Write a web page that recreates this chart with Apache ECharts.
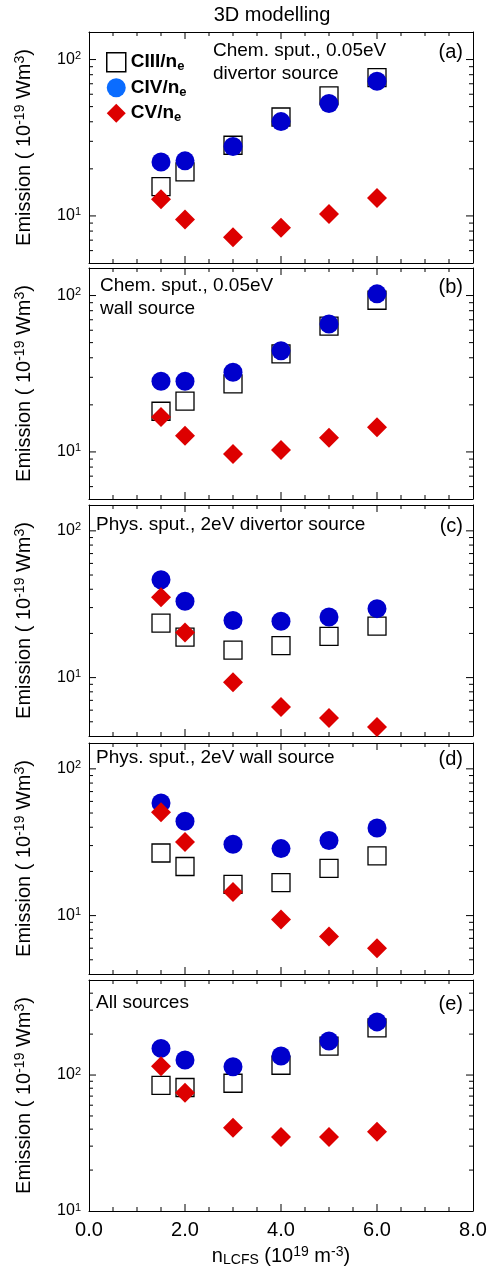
<!DOCTYPE html>
<html><head><meta charset="utf-8">
<script src="https://cdn.jsdelivr.net/npm/echarts@6/dist/echarts.min.js"></script>
<style>html,body{margin:0;padding:0;background:#fff}#c{width:493px;height:1277px;background:#fff}</style>
</head><body><div id="c"></div>
<script>
// ---- data ----
const xValues = [1.5, 2, 3, 4, 5, 6];
const seriesNames = ['CIII', 'CIV', 'CV'];
const ciiiA = [15.4, 19.1, 28.3, 42.9, 58.5, 76.7];
const civA  = [22.1, 22.5, 27.8, 40.1, 52.3, 72.6];
const cvA   = [12.8, 9.5, 7.3, 8.4, 10.3, 13.0];
const ciiiB = [18.2, 21.1, 27.2, 42.4, 63.8, 93.3];
const civB  = [28.3, 28.3, 32.3, 44.3, 65.8, 102.5];
const cvB   = [16.7, 12.7, 9.7, 10.3, 12.3, 14.4];
const ciiiC = [23.5, 18.9, 15.4, 16.5, 19.1, 22.4];
const civC  = [46.4, 33.1, 24.5, 24.2, 25.9, 29.5];
const cvC   = [35.3, 20.3, 9.3, 6.3, 5.3, 4.6];
const ciiiD = [26.7, 21.6, 16.3, 16.8, 21.0, 25.5];
const civD  = [58.5, 44.0, 30.6, 28.6, 32.5, 39.5];
const cvD   = [50.6, 31.7, 14.5, 9.4, 7.2, 6.0];
const ciiiE = [84, 81, 87, 118, 163, 222];
const civE  = [157, 129, 115, 138, 178, 246];
const cvE   = [116, 74, 41, 35, 35, 38.3];
const yMins = [5, 5, 4, 4, 10];
const yMaxs = [150, 150, 150, 150, 500];
const decadeTicks = [10, 100, 1000];
const minorMultipliers = [2, 3, 4, 5, 6, 7, 8, 9];
const xMajorTicks = [2, 4, 6];
const xMinorTicks = [0.5, 1, 1.5, 2.5, 3, 3.5, 4.5, 5, 5.5, 6.5, 7, 7.5];
const xTickLabels = ['0.0', '2.0', '4.0', '6.0', '8.0'];
const panelTexts = [
  ['Chem. sput., 0.05eV', 'divertor source'],
  ['Chem. sput., 0.05eV', 'wall source'],
  ['Phys. sput., 2eV divertor source'],
  ['Phys. sput., 2eV wall source'],
  ['All sources']
];
const panelLetters = ['(a)', '(b)', '(c)', '(d)', '(e)'];
const panelData = [
  [ciiiA, civA, cvA], [ciiiB, civB, cvB], [ciiiC, civC, cvC], [ciiiD, civD, cvD], [ciiiE, civE, cvE]
];

// ---- layout ----
const FONT = '"Liberation Sans", Arial, sans-serif';
const gridTops = [32, 268, 505, 743, 980];
const gridH = 231;
const grids = gridTops.map(t => ({ left: 89, width: 384, top: t, height: gridH, show: false }));

function minorTicksFor(min, max) {
  const out = [];
  [1, 10, 100].forEach(d => minorMultipliers.forEach(m => {
    const v = m * d; if (v > min && v < max) out.push(v);
  }));
  return out;
}
function majorTicksFor(min, max) { return decadeTicks.filter(v => v > min && v < max); }

const lineStyle = { color: '#000', width: 1 };
function xb(i, pos, withLabels) {
  return { type: 'value', gridIndex: i, min: 0, max: 8, interval: 2, position: pos,
    axisLine: { show: true, onZero: false, lineStyle: lineStyle },
    axisTick: { show: false }, minorTick: { show: false },
    splitLine: { show: false }, minorSplitLine: { show: false },
    axisLabel: withLabels ? { show: true, margin: 9, fontSize: 20, fontFamily: FONT, color: '#000',
      formatter: v => xTickLabels[Math.round(v / 2)] } : { show: false } };
}
function yb(i, pos, withLabels) {
  const mn = yMins[i], mx = yMaxs[i];
  return { type: 'log', logBase: 10, gridIndex: i, min: mn, max: mx, position: pos,
    splitLine: { show: false }, minorTick: { show: false }, minorSplitLine: { show: false },
    axisLine: { show: true, onZero: false, lineStyle: lineStyle },
    axisTick: { show: false },
    axisLabel: withLabels ? {
      show: true, margin: 8, customValues: decadeTicks.filter(v => v >= mn && v <= mx),
      formatter: v => '{n|10}{s|' + Math.round(Math.log10(v)) + '}',
      rich: {
        n: { fontSize: 16, fontFamily: FONT, color: '#000', lineHeight: 18 },
        s: { fontSize: 11, fontFamily: FONT, color: '#000', verticalAlign: 'top', lineHeight: 10 }
      }
    } : { show: false } };
}

const xAxes = [], yAxes = [], series = [], graphics = [];
const styles = [
  { symbol: 'rect', symbolSize: 18, itemStyle: { color: 'rgba(255,255,255,0)', borderColor: '#000', borderWidth: 1.3, opacity: 1 } },
  { symbol: 'circle', symbolSize: 19, itemStyle: { color: '#0000cc', opacity: 1 } },
  { symbol: 'diamond', symbolSize: 20, itemStyle: { color: '#dd0000', opacity: 1 } }
];
const yTitleRich = {
  n: { fontSize: 20, fontFamily: FONT, fill: '#000', lineHeight: 22 },
  s: { fontSize: 14, fontFamily: FONT, fill: '#000', verticalAlign: 'top', lineHeight: 12 }
};

panelData.forEach((pd, i) => {
  const xi = xAxes.length, yi = yAxes.length;
  xAxes.push(xb(i, 'bottom', i === 4));
  xAxes.push(xb(i, 'top', false));
  yAxes.push(yb(i, 'left', true));
  yAxes.push(yb(i, 'right', false));

  // inward tick marks on all four sides, placed through the axes' scales
  const mn = yMins[i], mx = yMaxs[i];
  const ticks = [];
  const tk = (x, y, size, off) => ticks.push({ value: [x, y], symbolSize: size, symbolOffset: off });
  xMajorTicks.forEach(x => { tk(x, mn, [1, 7], [0, -3.5]); tk(x, mx, [1, 7], [0, 3.5]); });
  xMinorTicks.forEach(x => { tk(x, mn, [1, 4], [0, -2]); tk(x, mx, [1, 4], [0, 2]); });
  majorTicksFor(mn, mx).forEach(y => { tk(0, y, [7, 1], [3.5, 0]); tk(8, y, [7, 1], [-3.5, 0]); });
  minorTicksFor(mn, mx).forEach(y => { tk(0, y, [4, 1], [2, 0]); tk(8, y, [4, 1], [-2, 0]); });
  series.push({ type: 'scatter', name: 'ticks', xAxisIndex: xi, yAxisIndex: yi, symbol: 'rect',
    clip: false, silent: true, itemStyle: { color: '#000', opacity: 1 }, data: ticks });

  pd.forEach((vals, k) => {
    series.push(Object.assign({
      type: 'scatter', name: seriesNames[k], xAxisIndex: xi, yAxisIndex: yi,
      data: xValues.map((x, j) => [x, vals[j]])
    }, styles[k]));
  });

  const textX = i === 0 ? 213 : (i === 1 ? 100 : 96);
  const textY0 = [51, 286, 525, 758, 1003][i];
  panelTexts[i].forEach((t, j) => {
    graphics.push({ type: 'text', x: textX, y: textY0 + j * 23,
      style: { text: t, font: '19px ' + FONT, fill: '#000', textVerticalAlign: 'middle' } });
  });
  graphics.push({ type: 'text', x: 463, y: textY0 + 1,
    style: { text: panelLetters[i], font: '20px ' + FONT, fill: '#000', textAlign: 'right', textVerticalAlign: 'middle' } });
  graphics.push({ type: 'text', x: 24, y: gridTops[i] + gridH / 2, rotation: Math.PI / 2,
    style: { text: '{n|Emission ( 10}{s|-19}{n| Wm}{s|3}{n|)}', rich: yTitleRich,
      textAlign: 'center', textVerticalAlign: 'middle' } });
});

graphics.push({ type: 'text', x: 272, y: 15,
  style: { text: '3D modelling', font: '20px ' + FONT, fill: '#000', textAlign: 'center', textVerticalAlign: 'middle' } });
graphics.push({ type: 'text', x: 281, y: 1256,
  style: { text: '{n|n}{b|LCFS}{n| (10}{s|19}{n| m}{s|-3}{n|)}', textAlign: 'center', textVerticalAlign: 'middle',
    rich: {
      n: { fontSize: 20, fontFamily: FONT, fill: '#000', lineHeight: 22 },
      b: { fontSize: 14, fontFamily: FONT, fill: '#000', verticalAlign: 'bottom', lineHeight: 14 },
      s: { fontSize: 14, fontFamily: FONT, fill: '#000', verticalAlign: 'top', lineHeight: 12 }
    } } });

const chart = echarts.init(document.getElementById('c'));
chart.setOption({
  animation: false,
  grid: grids, xAxis: xAxes, yAxis: yAxes, series: series, graphic: graphics,
  legend: {
    orient: 'vertical', left: 101, top: 47, itemGap: 5, itemWidth: 19, itemHeight: 19,
    selectedMode: false,
    data: [
      { name: 'CIII', icon: 'rect', itemStyle: { color: '#fff', borderColor: '#000', borderWidth: 1.5 } },
      { name: 'CIV', icon: 'circle', itemStyle: { color: '#0a6cff' } },
      { name: 'CV', icon: 'diamond', itemStyle: { color: '#dd0000' } }
    ],
    formatter: n => '{b|' + n + '/n}{e|e}',
    textStyle: { rich: {
      b: { fontSize: 19, fontWeight: 'bold', fontFamily: FONT, color: '#000', lineHeight: 22 },
      e: { fontSize: 13, fontWeight: 'bold', fontFamily: FONT, color: '#000', verticalAlign: 'bottom', lineHeight: 14 }
    } }
  }
});
</script></body></html>
